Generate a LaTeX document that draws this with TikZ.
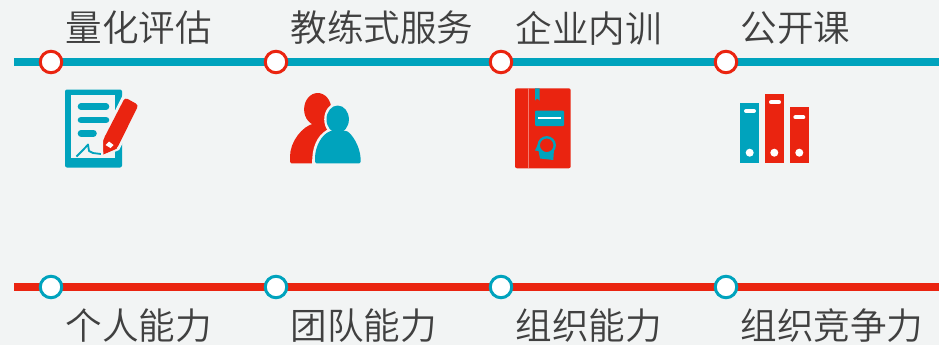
\documentclass[tikz,border=0pt]{standalone}
\usepackage{fontspec}
\setmainfont{Noto Sans CJK SC DemiLight}
\definecolor{bgc}{HTML}{F2F4F4}
\definecolor{teal1}{HTML}{00A3BD}
\definecolor{red1}{HTML}{EA2410}
\definecolor{txt}{HTML}{404040}
\tikzset{
  lab/.style={anchor=west,inner sep=0pt,font=\fontsize{36.6}{36.6}\selectfont,text=txt},
  rail/.style={line width=8pt},
  stopr/.style={circle,draw=red1,fill=white,line width=3pt,minimum size=21.5pt,inner sep=0pt},
  stopt/.style={circle,draw=teal1,fill=white,line width=3pt,minimum size=21.5pt,inner sep=0pt},
  bar/.style={line width=6.6pt,line cap=round,draw=teal1},
  tab/.style={line width=4pt,line cap=round,draw=white},
}
\begin{document}
\begin{tikzpicture}[x=1pt,y=-1pt]
\useasboundingbox (0,0) rectangle (939,345);
\fill[bgc] (0,0) rectangle (939,345);
% rails
\coordinate (ta) at (14,62); \coordinate (tb) at (939,62);
\coordinate (ba) at (14,287); \coordinate (bb) at (939,287);
\draw[rail,teal1] (ta) -- (tb);
\draw[rail,red1] (ba) -- (bb);
% stops
\foreach \n/\x in {1/51,2/276,3/501,4/726}{
  \node[stopr] (s\n) at (\x,62) {};
  \node[stopt] (u\n) at (\x,287) {};
}
% labels
\node[lab] (l1) at (65.2,28) {量化评估};
\node[lab] (l2) at (290.2,28) {教练式服务};
\node[lab] (l3) at (515.2,28) {企业内训};
\node[lab] (l4) at (740.2,28) {公开课};
\node[lab] (m1) at (65.2,326) {个人能力};
\node[lab] (m2) at (290.2,326) {团队能力};
\node[lab] (m3) at (515.2,326) {组织能力};
\node[lab] (m4) at (740.2,326) {组织竞争力};
% icon 1: document and pencil
\fill[teal1,rounded corners=2pt] (65,89.5) rectangle (122,167.5);
\fill[bgc] (71,95) rectangle (115,157.5);
\draw[bar] (81,106.7) -- (106,106.7);
\draw[bar] (81,120) -- (106,120);
\draw[bar] (81,133.3) -- (93.5,133.3);
\draw[teal1,line width=1.8pt,line join=round] (76.5,156.5) -- (84,149) -- (88,144.5) -- (89,151) -- (93,153) -- (101,154);
\fill[bgc] (122.8,95) -- (142,104) -- (119.2,150) -- (101,157.5) -- (101,138.3) -- cycle;
\fill[red1,rounded corners=3pt] (125,97.5) -- (138.5,105) -- (117,148.5) -- (103.3,154) -- (103.3,139.5) -- cycle;
\fill[red1] (117,148.5) -- (103.3,154.5) -- (103.3,139.5) -- cycle;
\fill[white] (105.5,145) -- (109,141.5) -- (113.5,145) -- (110.5,148) -- cycle;
% icon 2: two people
\fill[red1] (317.7,109.3) ellipse [x radius=13.6,y radius=16.3];
\fill[red1,rounded corners=1.5pt] (290,163.3) -- (290,158) .. controls (290,142) and (302,126) .. (316,123) -- (330,123) .. controls (345,128) and (350,145) .. (350,163.3) -- cycle;
\fill[bgc] (337.7,119.3) ellipse [x radius=13.5,y radius=16.5];
\fill[bgc] (312,165) -- (312.3,158) .. controls (313,143) and (320,132) .. (331,128) -- (346,128) .. controls (354,132) and (363,145) .. (363,165) -- cycle;
\fill[teal1] (337.7,119.3) ellipse [x radius=11.2,y radius=13.8];
\fill[teal1,rounded corners=1.5pt] (315,163.3) -- (315,160) .. controls (315,146) and (322,134) .. (331.7,130.7) -- (346,130.7) .. controls (352,134) and (360,146) .. (360.7,160) -- (360.7,163.3) -- cycle;
% icon 3: book
\fill[red1,rounded corners=2pt] (515,88.3) rectangle (570.7,168.3);
\draw[red1!60!white,line width=0.8pt] (528.3,88.3) -- (528.3,168.3);
\fill[teal1] (535,88.3) -- (539.5,88.3) -- (539.5,100.5) -- (537.2,98.5) -- (535,100.5) -- cycle;
\fill[teal1,rounded corners=1pt] (535,110.7) rectangle (564,126);
\draw[white,line width=2pt] (538,118.3) -- (561,118.3);
\fill[teal1] (539,142) -- (535,150.5) -- (538.5,151) -- (540,158.5) -- (553.3,160) -- (554,149) -- cycle;
\fill[red1] (546.7,145.3) circle (7);
\draw[teal1,line width=2.4pt] (546.7,145.3) circle (8);
\fill[red1] (545.8,141) rectangle (547.6,147);
\fill[red1] (546.7,149) circle (1.1);
% icon 4: binders
\fill[teal1] (740,103.3) rectangle (759,162.7);
\fill[red1] (765,94) rectangle (784,162.7);
\fill[red1] (790,106.7) rectangle (809,162.7);
\draw[tab] (746,111) -- (754,111);
\draw[tab] (771,102.3) -- (779,102.3);
\draw[tab] (795.3,117.3) -- (803.3,117.3);
\fill[white] (749.7,152.7) circle (4);
\fill[white] (774.3,152.7) circle (4);
\fill[white] (799.3,152.7) circle (4);
\end{tikzpicture}
\end{document}
